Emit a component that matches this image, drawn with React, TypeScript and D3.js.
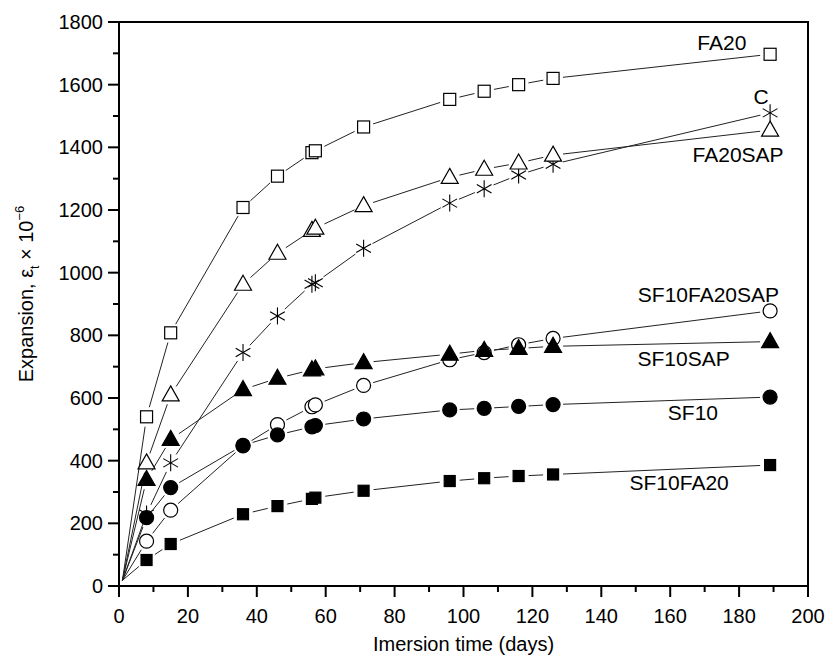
import React from "react";
import * as d3 from "d3";

// immersion days (same for every mix)
const days = [8, 15, 36, 46, 56, 57, 71, 96, 106, 116, 126, 189];

// expansion x 10^-6
const FA20 = [540, 808, 1208, 1308, 1383, 1389, 1465, 1553, 1579, 1600, 1620, 1697];
const C = [230, 393, 745, 862, 963, 968, 1078, 1222, 1268, 1312, 1346, 1510];
const FA20SAP = [393, 610, 963, 1062, 1135, 1142, 1214, 1304, 1330, 1350, 1375, 1455];
const SF10FA20SAP = [143, 242, 447, 515, 572, 578, 640, 722, 745, 770, 790, 878];
const SF10SAP = [340, 468, 627, 663, 690, 693, 713, 740, 752, 758, 765, 780];
const SF10 = [218, 314, 449, 482, 508, 512, 533, 562, 567, 573, 579, 603];
const SF10FA20 = [83, 134, 229, 255, 278, 282, 304, 335, 344, 351, 356, 386];

const origin = { day: 1, value: 18 };

const xTicks = [0, 20, 40, 60, 80, 100, 120, 140, 160, 180, 200];
const yTicks = [0, 200, 400, 600, 800, 1000, 1200, 1400, 1600, 1800];

type Sym = "square" | "star" | "triangle" | "circle";
const series: { name: string; values: number[]; sym: Sym; filled: boolean; lx: number; ly: number }[] = [
  { name: "FA20", values: FA20, sym: "square", filled: false, lx: 175, ly: 1711 },
  { name: "C", values: C, sym: "star", filled: false, lx: 186.4, ly: 1538 },
  { name: "FA20SAP", values: FA20SAP, sym: "triangle", filled: false, lx: 179.7, ly: 1353 },
  { name: "SF10FA20SAP", values: SF10FA20SAP, sym: "circle", filled: false, lx: 171.1, ly: 906 },
  { name: "SF10SAP", values: SF10SAP, sym: "triangle", filled: true, lx: 163.9, ly: 702 },
  { name: "SF10", values: SF10, sym: "circle", filled: true, lx: 166.6, ly: 530 },
  { name: "SF10FA20", values: SF10FA20, sym: "square", filled: true, lx: 162.6, ly: 306 },
];

const W = 833;
const H = 656;
const m = { left: 119, right: 808, top: 22, bottom: 586 };
const FONT = "'Liberation Sans', Arial, sans-serif";

const x = d3.scaleLinear().domain([0, 200]).range([m.left, m.right]);
const y = d3.scaleLinear().domain([0, 1800]).range([m.bottom, m.top]);

function Marker({ cx, cy, sym, filled }: { cx: number; cy: number; sym: Sym; filled: boolean }) {
  const fill = filled ? "#000" : "#fff";
  const st = { stroke: "#000", strokeWidth: 1.2, fill };
  if (sym === "square") {
    const s = filled ? 11 : 12;
    return <rect x={cx - s / 2} y={cy - s / 2} width={s} height={s} {...st} />;
  }
  if (sym === "circle") return <circle cx={cx} cy={cy} r={7} {...st} />;
  if (sym === "triangle") {
    const p = `${cx},${cy - 9} ${cx + 8.5},${cy + 6} ${cx - 8.5},${cy + 6}`;
    return <polygon points={p} {...st} />;
  }
  const r = 8.5;
  const a = Math.PI / 6;
  return (
    <g stroke="#000" strokeWidth={1.1}>
      <line x1={cx} y1={cy - r} x2={cx} y2={cy + r} />
      <line x1={cx - r * Math.cos(a)} y1={cy - r * Math.sin(a)} x2={cx + r * Math.cos(a)} y2={cy + r * Math.sin(a)} />
      <line x1={cx - r * Math.cos(a)} y1={cy + r * Math.sin(a)} x2={cx + r * Math.cos(a)} y2={cy - r * Math.sin(a)} />
    </g>
  );
}

// line pieces between markers, cut short so a small gap shows round each marker
function segments(values: number[]) {
  const pts = [[x(origin.day), y(origin.value)], ...values.map((v, i) => [x(days[i]), y(v)])];
  const gap = 10;
  const segs: number[][] = [];
  for (let i = 1; i < pts.length; i++) {
    const [x0, y0] = pts[i - 1];
    const [x1, y1] = pts[i];
    const d = Math.hypot(x1 - x0, y1 - y0);
    const g0 = i === 1 ? 0 : gap;
    if (d <= g0 + gap) continue;
    const ux = (x1 - x0) / d, uy = (y1 - y0) / d;
    segs.push([x0 + ux * g0, y0 + uy * g0, x1 - ux * gap, y1 - uy * gap]);
  }
  return segs;
}

export default function App() {
  const minorX = d3.range(10, 200, 20);
  const minorY = d3.range(100, 1800, 200);
  return (
    <svg width={W} height={H} style={{ position: "fixed", left: 0, top: 0, background: "#fff" }} fontFamily={FONT}>
      {series.map((s) => (
        <g key={s.name + "l"} stroke="#222" strokeWidth={1}>
          {segments(s.values).map((g, i) => (
            <line key={i} x1={g[0]} y1={g[1]} x2={g[2]} y2={g[3]} />
          ))}
        </g>
      ))}
      {series.map((s) => (
        <g key={s.name + "m"}>
          {s.values.map((v, i) => (
            <Marker key={i} cx={x(days[i])} cy={y(v)} sym={s.sym} filled={s.filled} />
          ))}
        </g>
      ))}
      {series.map((s) => (
        <text key={s.name + "t"} x={x(s.lx)} y={y(s.ly)} textAnchor="middle" fontSize={21}>
          {s.name}
        </text>
      ))}

      <rect x={m.left} y={m.top} width={m.right - m.left} height={m.bottom - m.top} fill="none" stroke="#000" strokeWidth={2} />

      <g stroke="#000" strokeWidth={2}>
        {xTicks.map((t) => (
          <line key={t} x1={x(t)} x2={x(t)} y1={m.bottom} y2={m.bottom + 11} />
        ))}
        {minorX.map((t) => (
          <line key={t} x1={x(t)} x2={x(t)} y1={m.bottom} y2={m.bottom + 6} />
        ))}
        {yTicks.map((t) => (
          <line key={t} x1={m.left - 11} x2={m.left} y1={y(t)} y2={y(t)} />
        ))}
        {minorY.map((t) => (
          <line key={t} x1={m.left - 6} x2={m.left} y1={y(t)} y2={y(t)} />
        ))}
      </g>
      {xTicks.map((t) => (
        <text key={t} x={x(t)} y={m.bottom + 37} textAnchor="middle" fontSize={20}>
          {t}
        </text>
      ))}
      {yTicks.map((t) => (
        <text key={t} x={m.left - 16} y={y(t) + 7} textAnchor="end" fontSize={20}>
          {t}
        </text>
      ))}

      <text x={(m.left + m.right) / 2} y={651} textAnchor="middle" fontSize={20}>
        Imersion time (days)
      </text>
      <text transform={`translate(33,294) rotate(-90)`} textAnchor="middle" fontSize={20}>
        Expansion, ε
        <tspan fontSize={12} dy={6}>t</tspan>
        <tspan dy={-6}> × 10</tspan>
        <tspan fontSize={13} dy={-9}>−6</tspan>
      </text>
    </svg>
  );
}
